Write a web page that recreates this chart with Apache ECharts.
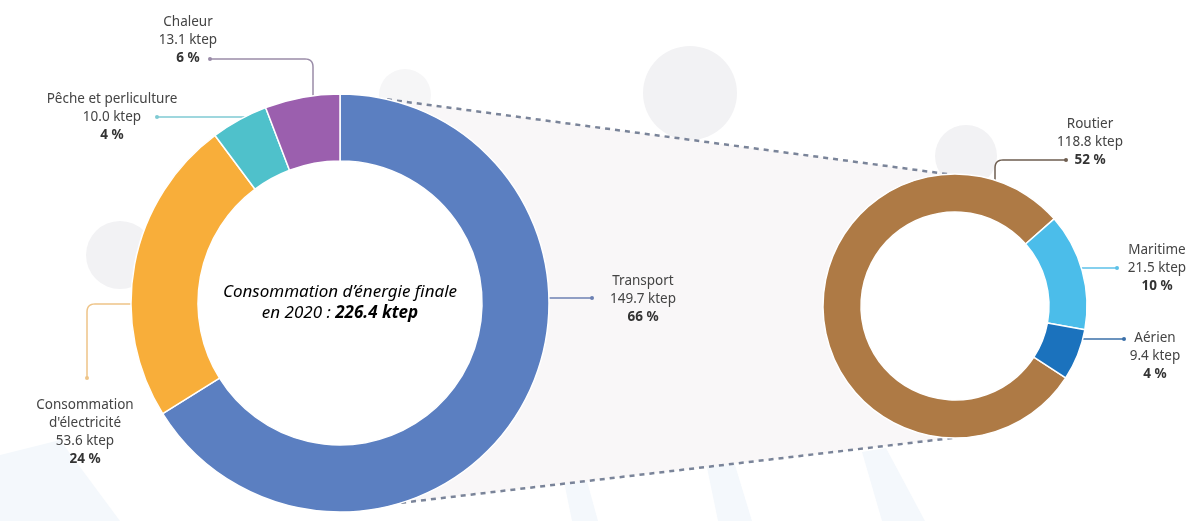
<!DOCTYPE html>
<html>
<head>
<meta charset="utf-8">
<script src="https://cdn.jsdelivr.net/npm/echarts@6/dist/echarts.min.js"></script>
<style>
  html, body { margin: 0; padding: 0; background: #ffffff; }
  #main { width: 1190px; height: 521px; }
</style>
</head>
<body>
<div id="main"></div>
<script>
// Consommation d'énergie finale en 2020 (ktep), with the breakdown of transport

const sectorNames = ['Transport', "Consommation\nd'électricité", 'Pêche et perliculture', 'Chaleur'];
const sectorValues = [149.7, 53.6, 10.0, 13.1];
const sectorPct = [66, 24, 4, 6];
const sectorColors = ['#5b7fc1', '#f8ae3a', '#4fc1cb', '#9b5fae'];

const transportNames = ['Routier', 'Maritime', 'Aérien'];
const transportValues = [118.8, 21.5, 9.4];
const transportPct = [52, 10, 4];
const transportColors = ['#ae7a45', '#4bbdea', '#1b72bd'];

const centerTitle = "Consommation d’énergie finale";
const centerYear = 'en 2020 : ';
const centerTotal = '226.4 ktep';

// ---- layout ----
const FONT = '"Noto Sans", "Open Sans", sans-serif';
const bigRing = { cx: 340, cy: 303, r0: 142, r1: 209 };
const smallRing = { cx: 955, cy: 306, r0: 94, r1: 132 };

// label anchor (tx, ty) and leader route for each slice
const sectorLabelLayout = [
  { tx: 643, ty: 299, leader: { kind: 'h', y: 298, side: 1, end: 592 }, line: '#6c80b3' },
  { tx: 85, ty: 432, leader: { kind: 'hv', y: 304, side: -1, corner: 87, end: 378 }, line: '#eec488' },
  { tx: 112, ty: 117, leader: { kind: 'h', y: 117, side: -1, end: 157 }, line: '#7fcad3' },
  { tx: 188, ty: 40, leader: { kind: 'vh', x: 313, corner: 59, end: 210 }, line: '#9a8ca8' }
];
const transportLabelLayout = [
  { tx: 1090, ty: 142, leader: { kind: 'vh', x: 995, corner: 160, end: 1066 }, line: '#6e5e50' },
  { tx: 1157, ty: 268, leader: { kind: 'h', y: 268, side: 1, end: 1117 }, line: '#5cc1e8' },
  { tx: 1155, ty: 356, leader: { kind: 'h', y: 339, side: 1, end: 1124 }, line: '#3a6fa8' }
];

function ringX(g, y, side) { const d = y - g.cy; return g.cx + side * Math.sqrt(g.r1 * g.r1 - d * d); }
function ringY(g, x) { const d = x - g.cx; return g.cy - Math.sqrt(g.r1 * g.r1 - d * d); }

function leaderPoints(g, ld) {
  if (ld.kind === 'h') return [[ringX(g, ld.y, ld.side), ld.y], [ld.end, ld.y]];
  if (ld.kind === 'hv') return [[ringX(g, ld.y, ld.side), ld.y], [ld.corner, ld.y], [ld.corner, ld.end]];
  return [[ld.x, ringY(g, ld.x)], [ld.x, ld.corner], [ld.end, ld.corner]];
}

// replace sharp elbows with small rounded bends
function roundCorners(pts, r) {
  if (pts.length < 3) return pts;
  const out = [pts[0]];
  for (let i = 1; i < pts.length - 1; i++) {
    const [ax, ay] = pts[i - 1], [px, py] = pts[i], [bx, by] = pts[i + 1];
    const la = Math.hypot(ax - px, ay - py), lb = Math.hypot(bx - px, by - py);
    const rr = Math.min(r, la / 2, lb / 2);
    const p1 = [px + (ax - px) / la * rr, py + (ay - py) / la * rr];
    const p2 = [px + (bx - px) / lb * rr, py + (by - py) / lb * rr];
    for (let k = 0; k <= 8; k++) {
      const t = k / 8, u = 1 - t;
      out.push([u * u * p1[0] + 2 * u * t * px + t * t * p2[0], u * u * p1[1] + 2 * u * t * py + t * t * p2[1]]);
    }
  }
  out.push(pts[pts.length - 1]);
  return out;
}

const rich = {
  n: { fontFamily: FONT, fontSize: 13.5, lineHeight: 18, color: '#444444' },
  p: { fontFamily: FONT, fontSize: 13.5, lineHeight: 18, color: '#333333', fontWeight: 'bold' }
};

function labelText(name, value, pct) {
  return name.split('\n').map(s => '{n|' + s + '}').join('\n') +
    '\n{n|' + value.toFixed(1) + ' ktep}\n{p|' + pct + ' %}';
}

function pieSeries(g, names, values, pct, colors, layout, startAngle) {
  return {
    type: 'pie',
    center: [g.cx, g.cy],
    radius: [g.r0, g.r1],
    startAngle: startAngle,
    clockwise: true,
    avoidLabelOverlap: false,
    silent: true,
    animation: false,
    itemStyle: { borderColor: '#ffffff', borderWidth: 1.5 },
    label: {
      show: true,
      position: 'outside',
      formatter: p => labelText(names[p.dataIndex], p.value, pct[p.dataIndex]),
      rich: rich
    },
    labelLine: { show: true, smooth: false, lineStyle: { width: 1.5 } },
    labelLayout: p => {
      const s = layout[p.dataIndex];
      return {
        x: s.tx, y: s.ty, align: 'center', verticalAlign: 'middle',
        labelLinePoints: roundCorners(leaderPoints(g, s.leader), 8)
      };
    },
    data: names.map((n, i) => ({
      name: n,
      value: values[i],
      itemStyle: { color: colors[i] },
      labelLine: { lineStyle: { color: layout[i].line } }
    }))
  };
}

function ringPoint(g, deg) {
  const a = deg * Math.PI / 180;
  return [g.cx + g.r1 * Math.cos(a), g.cy - g.r1 * Math.sin(a)];
}

const topA = ringPoint(bigRing, 77), topB = ringPoint(smallRing, 93);
const botA = ringPoint(bigRing, -73), botB = ringPoint(smallRing, -91);

// small end dots at the label side of every leader
function leaderDots(g, layout) {
  return layout.map(s => {
    const pts = leaderPoints(g, s.leader);
    const e = pts[pts.length - 1];
    return { type: 'circle', z: 10, silent: true, shape: { cx: e[0], cy: e[1], r: 2 }, style: { fill: s.line } };
  });
}

const softGrey = '#f2f2f4';
const softBlue = '#f4f8fc';

const graphics = [
  // decorative silhouettes in the background
  { type: 'polygon', z: 0, silent: true, shape: { points: [[0, 455], [60, 440], [120, 521], [0, 521]] }, style: { fill: softBlue } },
  { type: 'polygon', z: 0, silent: true, shape: { points: [[562, 472], [584, 470], [598, 521], [572, 521]] }, style: { fill: softBlue } },
  { type: 'polygon', z: 0, silent: true, shape: { points: [[705, 458], [732, 455], [752, 521], [718, 521]] }, style: { fill: softBlue } },
  { type: 'polygon', z: 0, silent: true, shape: { points: [[862, 452], [886, 448], [925, 521], [882, 521]] }, style: { fill: softBlue } },
  { type: 'circle', z: 0, silent: true, shape: { cx: 120, cy: 255, r: 34 }, style: { fill: softGrey } },
  { type: 'circle', z: 0, silent: true, shape: { cx: 405, cy: 95, r: 26 }, style: { fill: '#f6f6f7' } },
  // band joining the two rings
  { type: 'polygon', z: 0, silent: true, shape: { points: [topA, topB, botB, botA] }, style: { fill: '#f9f7f8' } },
  { type: 'circle', z: 0, silent: true, shape: { cx: 690, cy: 93, r: 47 }, style: { fill: softGrey } },
  { type: 'circle', z: 0, silent: true, shape: { cx: 966, cy: 156, r: 31 }, style: { fill: softGrey } },
  // white holes of the rings
  { type: 'circle', z: 1, silent: true, shape: { cx: bigRing.cx, cy: bigRing.cy, r: bigRing.r0 }, style: { fill: '#ffffff' } },
  { type: 'circle', z: 1, silent: true, shape: { cx: smallRing.cx, cy: smallRing.cy, r: smallRing.r0 }, style: { fill: '#ffffff' } },
  // dashed zoom lines
  { type: 'polyline', z: 1, silent: true, shape: { points: [topA, topB] }, style: { stroke: '#7a8499', lineWidth: 2.5, lineDash: [5, 5], fill: null } },
  { type: 'polyline', z: 1, silent: true, shape: { points: [botA, botB] }, style: { stroke: '#7a8499', lineWidth: 2.5, lineDash: [5, 5], fill: null } },
  // centre caption
  {
    type: 'text', z: 10, silent: true, x: bigRing.cx, y: bigRing.cy,
    style: {
      text: '{a|' + centerTitle + '}\n{a|' + centerYear + '}{b|' + centerTotal + '}',
      align: 'center', verticalAlign: 'middle',
      rich: {
        a: { fontFamily: FONT, fontSize: 17, fontStyle: 'italic', fontWeight: 'normal', lineHeight: 21, color: '#333333' },
        b: { fontFamily: FONT, fontSize: 17, fontStyle: 'italic', fontWeight: 'bold', lineHeight: 21, color: '#333333' }
      }
    }
  }
].concat(leaderDots(bigRing, sectorLabelLayout), leaderDots(smallRing, transportLabelLayout));

const chart = echarts.init(document.getElementById('main'), null, { renderer: 'canvas' });
chart.setOption({
  backgroundColor: '#ffffff',
  animation: false,
  graphic: { elements: graphics },
  series: [
    pieSeries(bigRing, sectorNames, sectorValues, sectorPct, sectorColors, sectorLabelLayout, 90),
    pieSeries(smallRing, transportNames, transportValues, transportPct, transportColors, transportLabelLayout, 327)
  ]
});
</script>
</body>
</html>
